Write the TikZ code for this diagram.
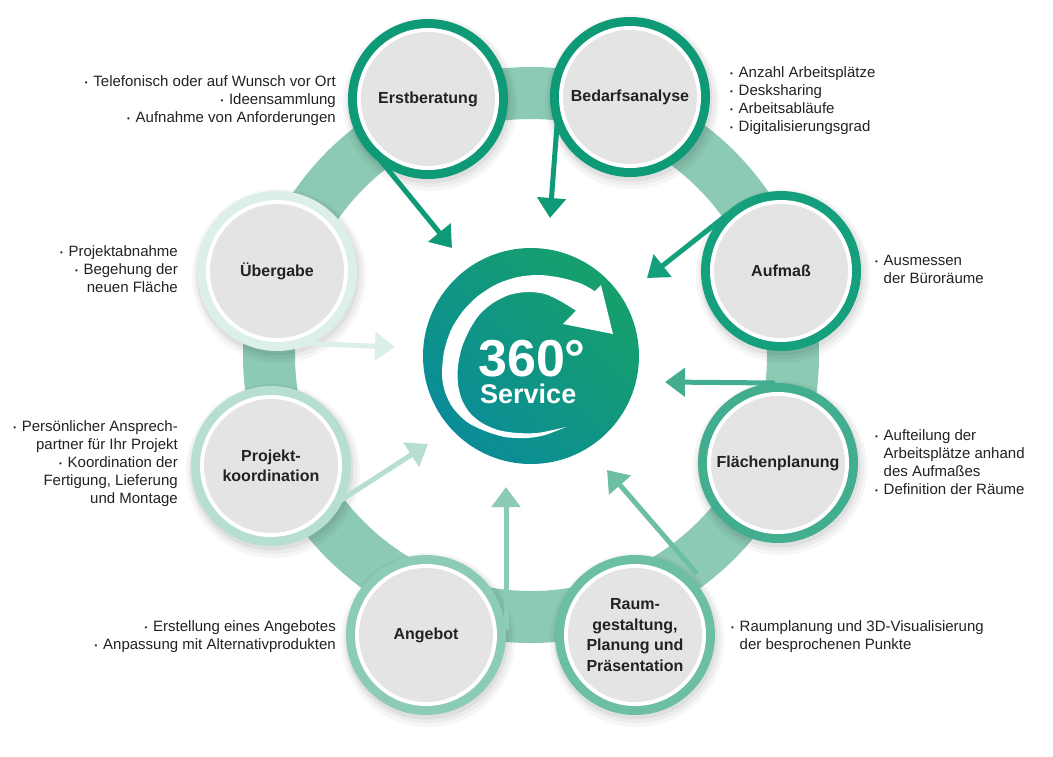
\documentclass[tikz,border=0pt]{standalone}
\usepackage{fontspec}
\setmainfont{Liberation Sans}
\usetikzlibrary{arrows.meta}
\definecolor{c1}{HTML}{0F9A77}
\definecolor{c2}{HTML}{0F9A77}
\definecolor{c3}{HTML}{14A07D}
\definecolor{c4}{HTML}{42AE8F}
\definecolor{c5}{HTML}{6CBFA3}
\definecolor{c6}{HTML}{8CCBB5}
\definecolor{c7}{HTML}{B6DFD1}
\definecolor{c8}{HTML}{DCEFE8}
\definecolor{bandc}{HTML}{8CCAB4}
\definecolor{cgray}{HTML}{E4E4E4}
\definecolor{ctxt}{HTML}{222222}
\definecolor{cgreen}{HTML}{16A06B}
\definecolor{cteal}{HTML}{0A8C98}
\newcommand{\bu}{\makebox[8.5pt][l]{\raisebox{0.1ex}{\fontsize{8}{8}\selectfont •}}}
\newcommand{\bi}{\hspace*{8.5pt}}
\tikzset{
  lab/.style={font=\fontsize{16}{20.5}\selectfont\bfseries, text=ctxt, align=center, inner sep=0pt},
  txt/.style={font=\fontsize{15}{18}\selectfont, text=ctxt, inner sep=0pt},
  arr/.style={line width=5pt, -{Triangle[width=28pt,length=20pt]}},
}
\begin{document}
\begin{tikzpicture}[x=1pt,y=-1pt]
\useasboundingbox (0,0) rectangle (1053,756);
\fill[white] (0,0) rectangle (1053,756);

% band ring
\draw[bandc, line width=52pt] (531,355) circle[radius=262pt];

% shadows
\foreach \x/\y in {428/99,630/97,781/271,778/463,635/635,426/635,271/466,277/271}{
  \fill[black,opacity=0.035] (\x+2,\y+5) circle[radius=87pt];
  \fill[black,opacity=0.04] (\x+2,\y+4) circle[radius=84pt];
  \fill[black,opacity=0.05] (\x+1,\y+3) circle[radius=81.5pt];
}

% arrow coordinates
\coordinate (erst-s) at (372,150); \coordinate (erst-t) at (452,248);
\coordinate (bed-s) at (558,112);  \coordinate (bed-t) at (550,218);
\coordinate (auf-s) at (728,214);  \coordinate (auf-t) at (647,278);
\coordinate (fla-s) at (775,383);  \coordinate (fla-t) at (665,382);
\coordinate (raum-s) at (697,574); \coordinate (raum-t) at (607,470);
\coordinate (ang-s) at (506,630);  \coordinate (ang-t) at (506,487);
\coordinate (pro-s) at (335,504);  \coordinate (pro-t) at (428,444);
\coordinate (ueb-s) at (295,343);  \coordinate (ueb-t) at (395,347);

\draw[arr,c1] (erst-s) -- (erst-t);
\draw[arr,c2] (bed-s) -- (bed-t);
\draw[arr,c3] (auf-s) -- (auf-t);
\draw[arr,c4] (fla-s) -- (fla-t);
\draw[arr,c5] (raum-s) -- (raum-t);
\draw[arr,c6] (ang-s) -- (ang-t);
\draw[arr,c7] (pro-s) -- (pro-t);
\draw[arr,c8] (ueb-s) -- (ueb-t);

% satellite circles
\foreach \n/\x/\y/\c/\t in {
  erst/428/99/c1/{Erstberatung},
  bed/630/97/c2/{Bedarfsanalyse},
  auf/781/271/c3/{Aufmaß},
  fla/778/463/c4/{Flächenplanung},
  raum/635/635/c5/{Raum-\\gestaltung,\\Planung und\\Präsentation},
  ang/426/635/c6/{Angebot},
  pro/271/466/c7/{Projekt-\\koordination},
  ueb/277/271/c8/{Übergabe}}{
  \fill[\c] (\x,\y) circle[radius=80pt];
  \fill[white] (\x,\y) circle[radius=71pt];
  \fill[cgray] (\x,\y) circle[radius=67pt];
  \node[lab] (\n) at (\x,\y) {\t};
}

% center circle
\shade[top color=cgreen, bottom color=cteal, shading angle=-45] (531,356) circle[radius=108pt];
\node[circle, minimum size=216pt, inner sep=0pt] (center) at (531,356) {};

% white circular arrow
\fill[white] plot[smooth] coordinates {(566,427) (545,435) (527,438) (505,437) (485,431) (467,422) (453,408) (445,392) (442,375) (444,352) (451,330) (463,311) (478,296) (497,284) (518,277) (540,275) (562,278) (582,284) (596,292)}
  -- plot[smooth] coordinates {(578,312) (562,302) (545,294) (527,292) (509,295) (493,303) (480,314) (470,329) (462,347) (458,366) (458,384) (462,400) (470,413) (482,423) (498,430) (517,433) (537,433) (553,430) (566,427)} -- cycle;
\fill[white] (601,285) -- (613,334) -- (563,324) -- cycle;

\node[anchor=base west, inner sep=0pt, text depth=0pt, text=white, font=\fontsize{52}{52}\selectfont\bfseries] (t360) at (478,376) {360°};
\node[anchor=base west, inner sep=0pt, text height=19pt, text=white, font=\fontsize{27}{27}\selectfont\bfseries] (tserv) at (480,403) {Service};

% text lists
\node[txt, anchor=base east] (l-erst) at (336,86) {\begin{tabular}[t]{@{}r@{}}\bu Telefonisch oder auf Wunsch vor Ort\\ \bu Ideensammlung\\ \bu Aufnahme von Anforderungen\end{tabular}};
\node[txt, anchor=base west] (l-bed) at (730,77) {\begin{tabular}[t]{@{}l@{}}\bu Anzahl Arbeitsplätze\\ \bu Desksharing\\ \bu Arbeitsabläufe\\ \bu Digitalisierungsgrad\end{tabular}};
\node[txt, anchor=base west] (l-auf) at (875,265) {\begin{tabular}[t]{@{}l@{}}\bu Ausmessen\\ \bi der Büroräume\end{tabular}};
\node[txt, anchor=base west] (l-fla) at (875,440) {\begin{tabular}[t]{@{}l@{}}\bu Aufteilung der\\ \bi Arbeitsplätze anhand\\ \bi des Aufmaßes\\ \bu Definition der Räume\end{tabular}};
\node[txt, anchor=base west] (l-raum) at (731,631) {\begin{tabular}[t]{@{}l@{}}\bu Raumplanung und 3D-Visualisierung\\ \bi der besprochenen Punkte\end{tabular}};
\node[txt, anchor=base east] (l-ang) at (336,631) {\begin{tabular}[t]{@{}r@{}}\bu Erstellung eines Angebotes\\ \bu Anpassung mit Alternativprodukten\end{tabular}};
\node[txt, anchor=base east] (l-pro) at (178,431) {\begin{tabular}[t]{@{}r@{}}\bu Persönlicher Ansprech-\\ partner für Ihr Projekt\\ \bu Koordination der\\ Fertigung, Lieferung\\ und Montage\end{tabular}};
\node[txt, anchor=base east] (l-ueb) at (178,256) {\begin{tabular}[t]{@{}r@{}}\bu Projektabnahme\\ \bu Begehung der\\ neuen Fläche\end{tabular}};
\end{tikzpicture}
\end{document}
